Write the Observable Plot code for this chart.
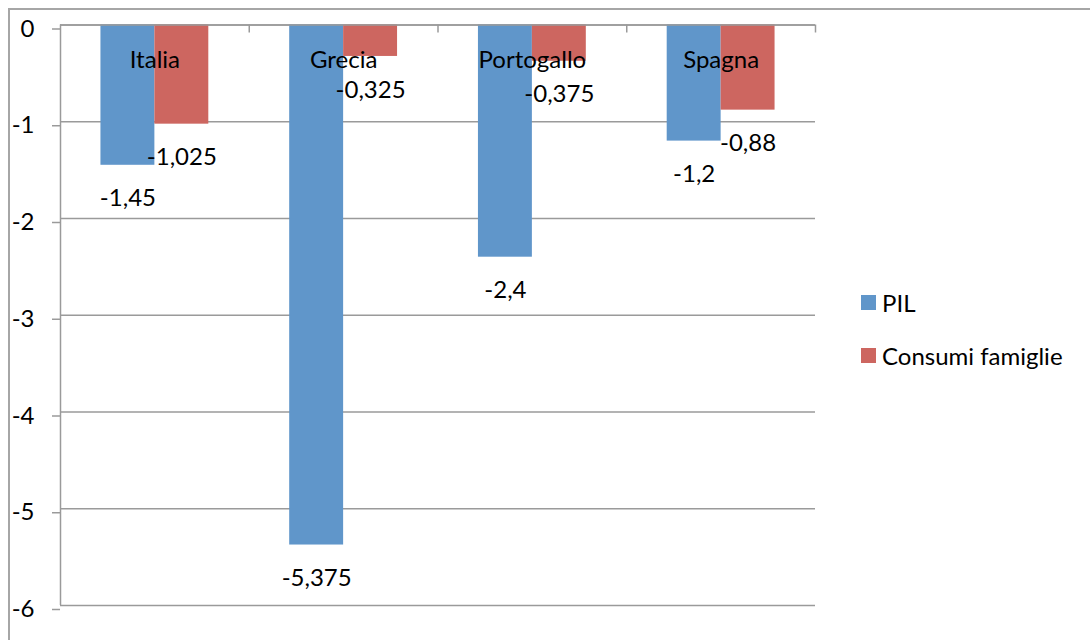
<!DOCTYPE html>
<html>
<head>
<meta charset="utf-8">
<script src="https://cdn.jsdelivr.net/npm/d3@7"></script>
<script src="https://cdn.jsdelivr.net/npm/@observablehq/plot@0.6"></script>
<style>
  html, body { margin: 0; padding: 0; background: #fff; }
  #wrap { position: relative; width: 1090px; height: 640px; overflow: hidden; font-family: Lato, "Noto Sans", sans-serif; }
  #frame { position: absolute; left: 8px; top: 8px; width: 1200px; height: 800px; border-top: 2px solid #a6a6a6; border-left: 2px solid #a6a6a6; box-sizing: border-box; }
  #chart { position: absolute; left: 0; top: 0; }
  #legend { position: absolute; left: 861px; top: 286px; font-size: 24px; color: #000; }
  .item { display: flex; align-items: center; height: 32px; margin-bottom: 21px; }
  .sw { width: 15px; height: 15px; margin-right: 6px; }
</style>
</head>
<body>
<div id="wrap">
  <div id="frame"></div>
  <div id="chart"></div>
  <div id="legend"></div>
</div>
<script>
const countries = ["Italia", "Grecia", "Portogallo", "Spagna"];
const seriesNames = ["PIL", "Consumi famiglie"];
const pil = [-1.45, -5.375, -2.4, -1.2];
const consumi = [-1.025, -0.325, -0.375, -0.88];
const yTicks = [0, -1, -2, -3, -4, -5, -6];
const colors = ["#6096CA", "#CD6660"];

const seriesValues = [pil, consumi];
const gap = 40.5 / 189;   // Excel-like gap width as fraction of category
const barW = 54 / 189;

const rows = [];
countries.forEach((c, i) => {
  seriesNames.forEach((s, k) => {
    rows.push({country: c, i, series: s, k, value: seriesValues[k][i],
      x1: i + gap + k * barW, x2: i + gap + (k + 1) * barW});
  });
});

const fmt = v => String(v).replace(".", ",");

const chart = Plot.plot({
  width: 1090,
  height: 640,
  marginLeft: 60,
  marginRight: 275,
  marginTop: 24.5,
  marginBottom: 35,
  x: {domain: [0, countries.length], axis: null},
  y: {domain: [-6, 0], axis: null},
  style: {fontFamily: "Lato, 'Noto Sans', sans-serif", fontSize: "24px", background: "transparent", color: "#000"},
  marks: [
    Plot.gridY(yTicks, {stroke: "#9a9a9a", strokeOpacity: 1, strokeWidth: 1.5}),
    Plot.rectY(rows, {x1: "x1", x2: "x2", y1: 0, y2: "value", fill: d => colors[d.k]}),
    Plot.ruleX([0], {stroke: "#9a9a9a", strokeWidth: 1.5}),
    Plot.ruleY([0], {stroke: "#9a9a9a", strokeWidth: 1.5}),
    Plot.axisX({anchor: "bottom", frameAnchor: "top", ticks: d3.range(1, countries.length + 1), tickSize: 8, tickFormat: () => "", label: null, stroke: "#9a9a9a", strokeWidth: 1.5}),
    Plot.axisY({ticks: yTicks, tickSize: 8, tickPadding: 18, tickFormat: d => String(d), label: null, stroke: "#9a9a9a", strokeWidth: 1.5, fill: "#000", fontSize: 24, dy: 4}),
    Plot.text(countries, {x: (d, i) => i + 0.5, frameAnchor: "top", lineAnchor: "middle", dy: 35.5, text: d => d, fill: "#000", fontSize: 24}),
    Plot.text(rows, {x: d => (d.x1 + d.x2) / 2, y: "value", text: d => fmt(d.value), dy: 33.5, fill: "#000", fontSize: 24})
  ]
});
document.getElementById("chart").appendChild(chart);

const legend = document.getElementById("legend");
seriesNames.forEach((s, k) => {
  const item = document.createElement("div");
  item.className = "item";
  const sw = document.createElement("div");
  sw.className = "sw";
  sw.style.background = colors[k];
  const lab = document.createElement("span");
  lab.textContent = s;
  item.appendChild(sw);
  item.appendChild(lab);
  legend.appendChild(item);
});
</script>
</body>
</html>
